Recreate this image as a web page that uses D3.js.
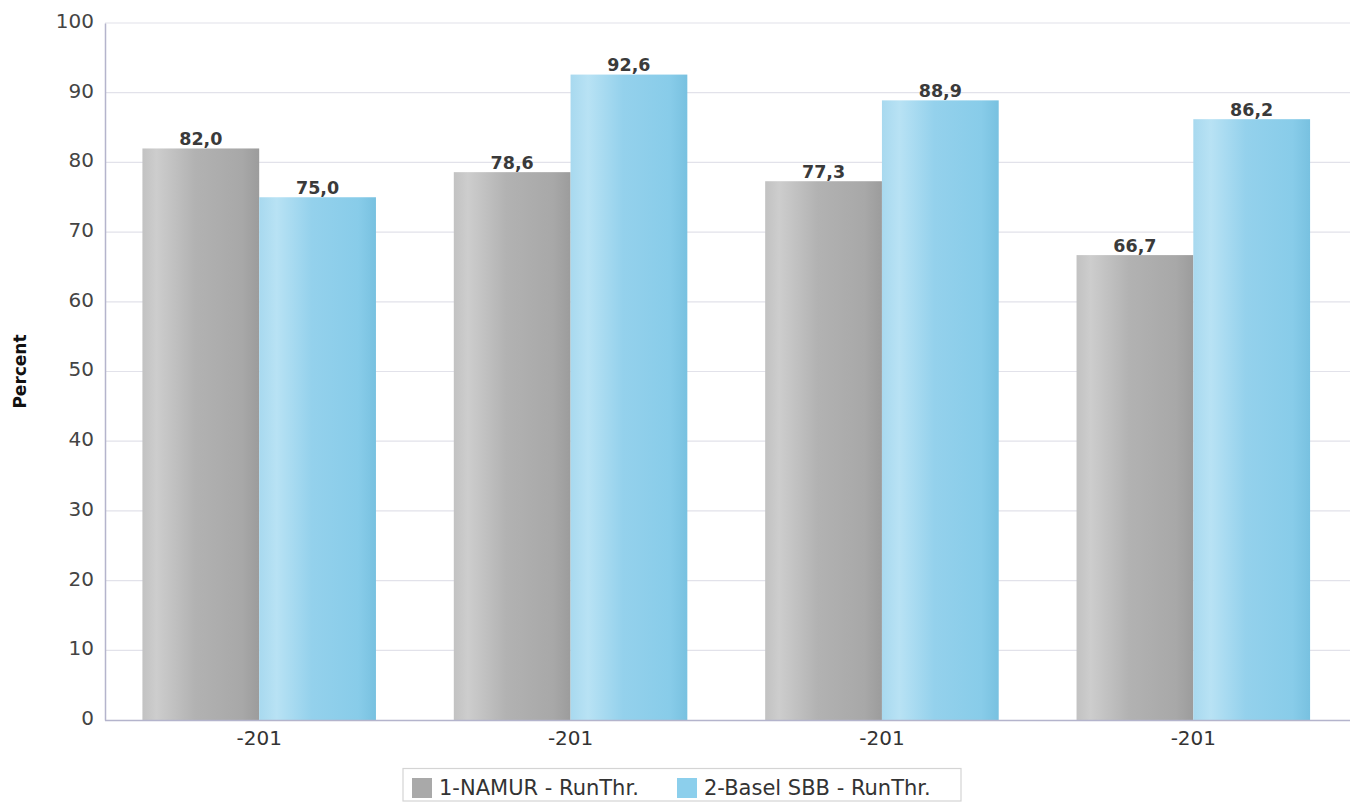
<!DOCTYPE html>
<html><head><meta charset="utf-8">
<script src="https://cdn.jsdelivr.net/npm/d3@7"></script>
<style>body{margin:0;background:#fff;}svg{display:block;}</style>
</head><body>
<svg id="c" width="1359" height="803"></svg>
<script>
const categories = ["-201", "-201", "-201", "-201"];
const seriesNames = ["1-NAMUR - RunThr.", "2-Basel SBB - RunThr."];
const namurValues = [82.0, 78.6, 77.3, 66.7];
const baselValues = [75.0, 92.6, 88.9, 86.2];
const yTicks = [0, 10, 20, 30, 40, 50, 60, 70, 80, 90, 100];

const svg = d3.select("#c");
const m = {left: 105, right: 10, top: 23, bottom: 83};
const W = 1359, H = 803;
const x0 = d3.scaleBand().domain(d3.range(categories.length)).range([m.left - 1.5, W - m.right]).paddingInner(0.25).paddingOuter(0.125);
const x1 = d3.scaleBand().domain([0, 1]).range([0, x0.bandwidth()]);
const y = d3.scaleLinear().domain([0, 100]).range([H - m.bottom, m.top]);

const defs = svg.append("defs");
function grad(id, stops) {
  const g = defs.append("linearGradient").attr("id", id).attr("x1", "0%").attr("x2", "100%").attr("y1", "0%").attr("y2", "0%");
  stops.forEach(s => g.append("stop").attr("offset", s[0]).attr("stop-color", s[1]));
}
grad("gGray", [["0%", "#c2c2c2"], ["12%", "#cdcdcd"], ["45%", "#b2b2b2"], ["85%", "#a8a8a8"], ["100%", "#9c9c9c"]]);
grad("gBlue", [["0%", "#a8d9ef"], ["15%", "#b8e2f4"], ["45%", "#94d1ec"], ["85%", "#88cce9"], ["100%", "#78c1e0"]]);
const fills = ["url(#gGray)", "url(#gBlue)"];
const swatch = ["#a9a9a9", "#8ccfec"];
const font = "DejaVu Sans, sans-serif";

// gridlines
svg.append("g").selectAll("line").data(yTicks.filter(t => t > 0)).join("line")
  .attr("x1", m.left).attr("x2", 1350)
  .attr("y1", d => y(d)).attr("y2", d => y(d))
  .attr("stroke", "#e2e2ea").attr("stroke-width", 1.2);

// y axis
const yAxis = svg.append("g").attr("transform", `translate(${m.left},0)`)
  .call(d3.axisLeft(y).tickValues(yTicks).tickSize(0).tickPadding(11));
yAxis.select(".domain").attr("stroke", "#b4b4cc").attr("stroke-width", 1.5);
yAxis.selectAll("text").attr("font-family", font).attr("font-size", 20).attr("fill", "#444").attr("dy", "0.22em");

// bars
const data = categories.map((c, i) => [namurValues[i], baselValues[i]]);
const groups = svg.append("g").selectAll("g").data(data).join("g")
  .attr("transform", (d, i) => `translate(${x0(i)},0)`);
groups.selectAll("rect").data(d => d).join("rect")
  .attr("x", (d, j) => x1(j)).attr("width", x1.bandwidth())
  .attr("y", d => y(d)).attr("height", d => y(0) - y(d))
  .attr("fill", (d, j) => fills[j]);
groups.selectAll("text").data(d => d).join("text")
  .attr("x", (d, j) => x1(j) + x1.bandwidth() / 2).attr("y", d => y(d) - 3.5)
  .attr("text-anchor", "middle").attr("font-family", font)
  .attr("font-weight", "bold").attr("font-size", 17.5).attr("fill", "#3a3a3a")
  .text(d => d.toFixed(1).replace(".", ","));

// x axis
const xAxis = svg.append("g").attr("transform", `translate(0,${y(0)})`)
  .call(d3.axisBottom(x0).tickFormat(i => categories[i]).tickSize(0).tickPadding(11));
xAxis.select(".domain").attr("stroke", "#b4b4cc").attr("stroke-width", 1.5).attr("d", `M${m.left},0.5H1350`);
xAxis.selectAll("text").attr("font-family", font).attr("font-size", 20).attr("fill", "#333");

// y label
svg.append("text").attr("transform", `translate(26,${(y(0) + y(100)) / 2}) rotate(-90)`)
  .attr("text-anchor", "middle").attr("font-family", font)
  .attr("font-weight", "bold").attr("font-size", 17).attr("fill", "#111").text("Percent");

// legend
const lg = svg.append("g");
lg.append("rect").attr("x", 403).attr("y", 768.5).attr("width", 558).attr("height", 32.5)
  .attr("fill", "#fff").attr("stroke", "#d4d4d4").attr("stroke-width", 1.2);
const lx = [412, 677];
seriesNames.forEach((n, i) => {
  lg.append("rect").attr("x", lx[i]).attr("y", 778).attr("width", 20).attr("height", 20).attr("fill", swatch[i]);
  lg.append("text").attr("x", lx[i] + 27).attr("y", 795).attr("font-family", font)
    .attr("font-size", 21).attr("fill", "#333").text(n);
});
</script>
</body></html>
